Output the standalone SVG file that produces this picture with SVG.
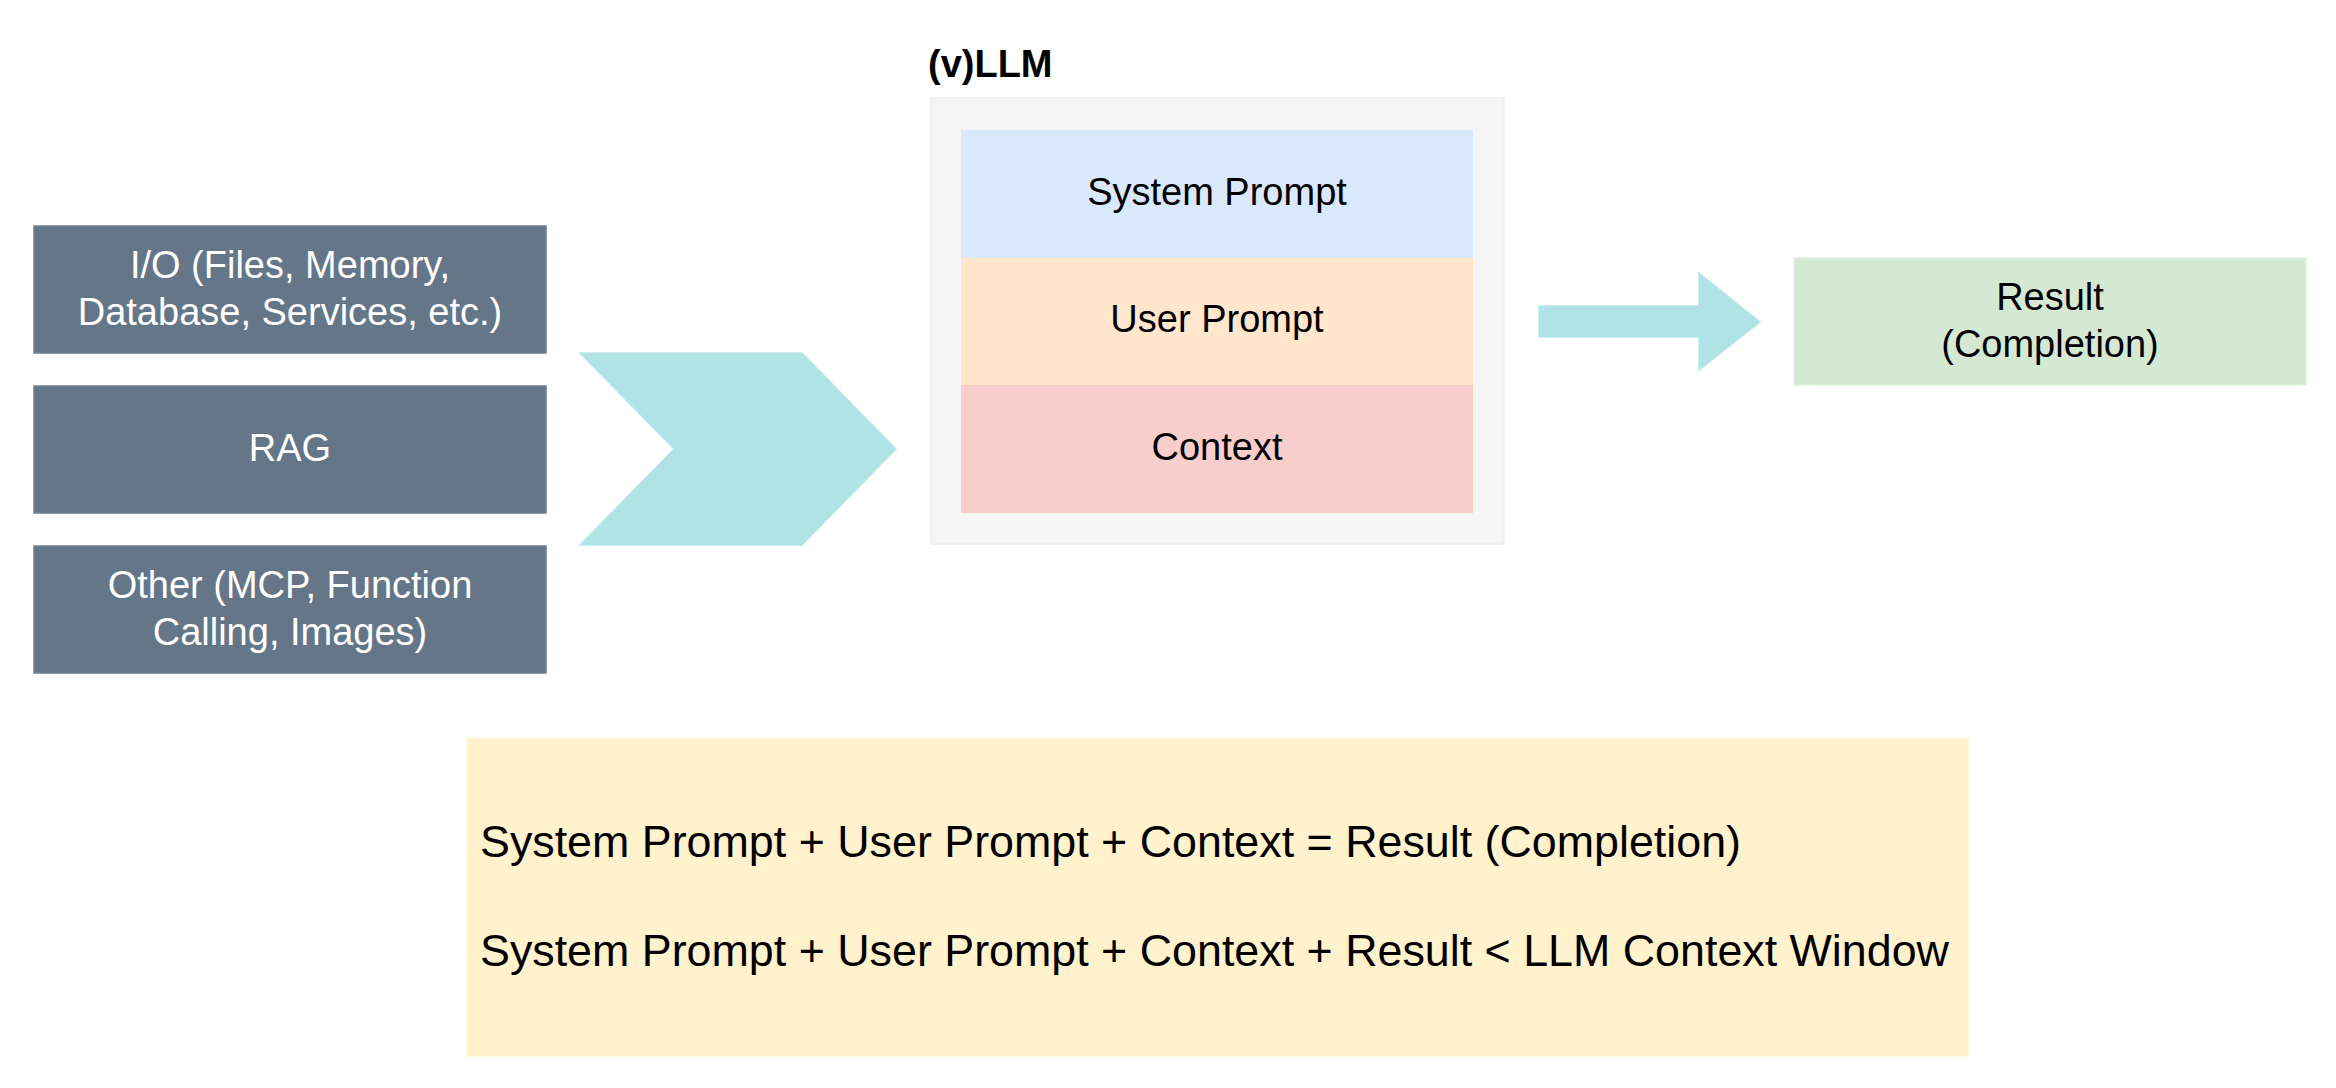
<svg xmlns="http://www.w3.org/2000/svg" width="2336" height="1088" viewBox="0 0 2336 1088">
<style>
text{font-family:"Liberation Sans",Arial,sans-serif;font-size:38px;fill:#000}
.c{text-anchor:middle}
.w{fill:#fff}
.src{fill:#647687;stroke:#6f8192;stroke-width:1.5}
.flow{fill:#b0e3e6;stroke:#b8e6e9;stroke-width:1.5}
.big{font-size:44.8px}
</style>
<rect width="2336" height="1088" fill="#fff"/>
<g id="io">
<rect class="src" x="34" y="226" width="512" height="127"/>
<text class="c w" x="290" y="278">I/O (Files, Memory,</text>
<text class="c w" x="290" y="325">Database, Services, etc.)</text>
</g>
<g id="rag">
<rect class="src" x="34" y="386" width="512" height="127"/>
<text class="c w" x="290" y="461">RAG</text>
</g>
<g id="other">
<rect class="src" x="34" y="546" width="512" height="127"/>
<text class="c w" x="290" y="598">Other (MCP, Function</text>
<text class="c w" x="290" y="645">Calling, Images)</text>
</g>
<g id="llm">
<text x="928" y="77" style="font-weight:bold">(v)LLM</text>
<rect x="931" y="98" width="573" height="446" fill="#f5f5f5" stroke="#eeeeee" stroke-width="1.5"/>
<g id="system-prompt">
<rect x="961" y="130" width="512" height="128" fill="#dae8fc"/>
<text class="c" x="1217" y="205">System Prompt</text>
</g>
<g id="user-prompt">
<rect x="961" y="258" width="512" height="127" fill="#ffe6cc"/>
<text class="c" x="1217" y="332">User Prompt</text>
</g>
<g id="context">
<rect x="961" y="385" width="512" height="128" fill="#f8cecc"/>
<text class="c" x="1217" y="460">Context</text>
</g>
</g>
<g id="result">
<rect x="1794" y="258" width="512" height="127" fill="#d5e8d4" stroke="#e2efe1" stroke-width="1.5"/>
<text class="c" x="2050" y="310">Result</text>
<text class="c" x="2050" y="357">(Completion)</text>
</g>
<g id="formula">
<rect x="467" y="738" width="1502" height="318" fill="#fff2cc" stroke="#fff6dc" stroke-width="1.5"/>
<text class="big" x="480" y="857">System Prompt + User Prompt + Context = Result (Completion)</text>
<text class="big" x="480" y="966">System Prompt + User Prompt + Context + Result &lt; LLM Context Window</text>
</g>
<g id="connectors">
<polygon class="flow" points="580,353 802,353 896,449 802,545 580,545 674,449"/>
<polygon class="flow" points="1539,306 1699,306 1699,273 1760,322 1699,370 1699,337 1539,337"/>
</g>
</svg>
